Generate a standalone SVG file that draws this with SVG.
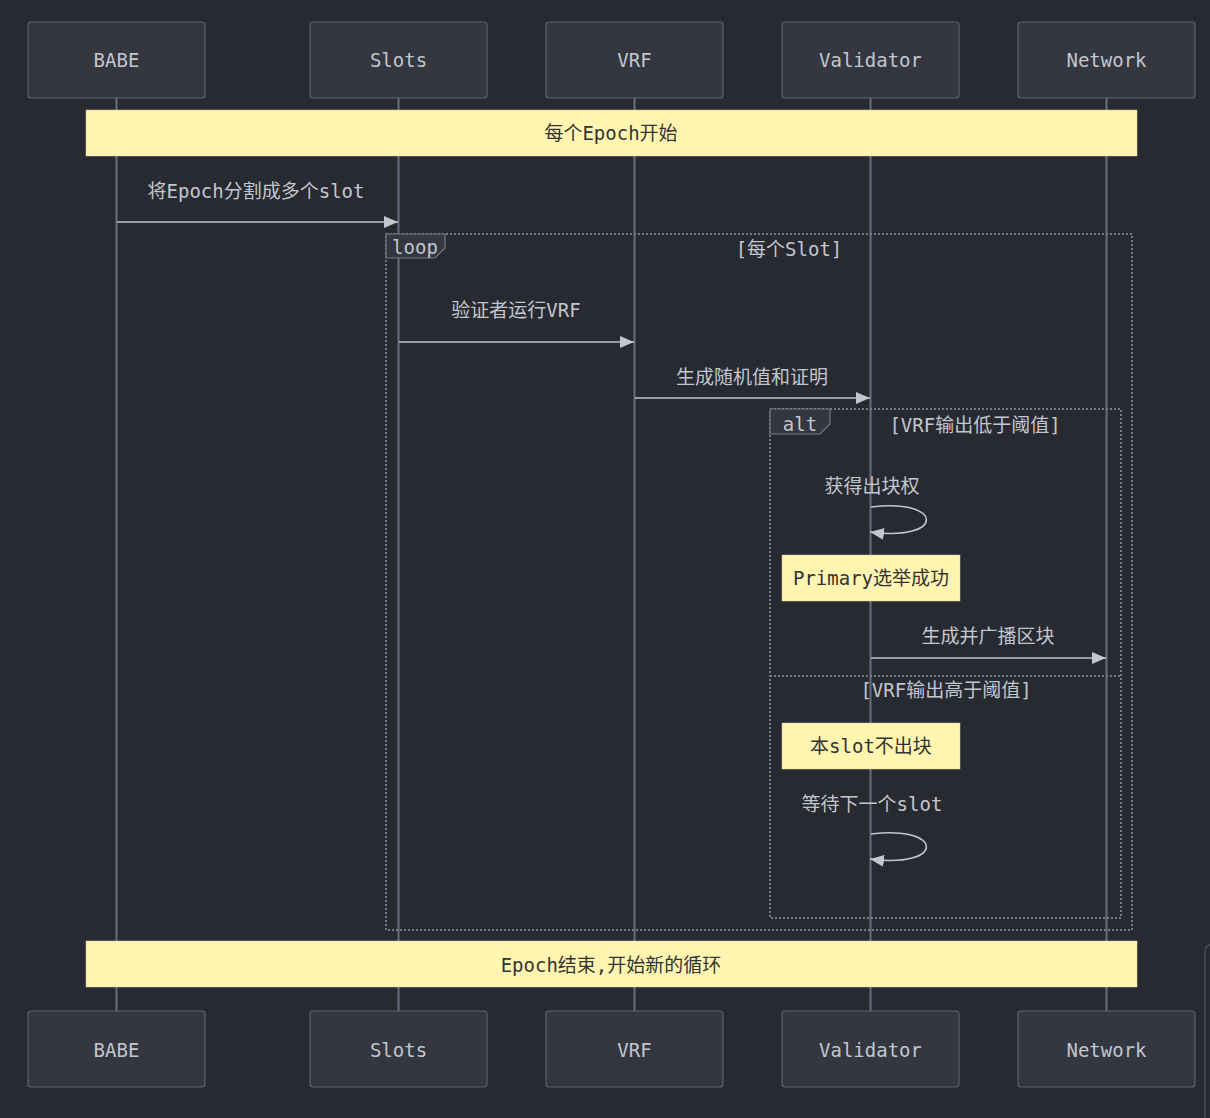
<svg xmlns="http://www.w3.org/2000/svg" width="1210" height="1118" viewBox="0 0 1210 1118">
  <style>
    .bg { fill: #282a32; }
    .actor rect { fill: #343640; stroke: #5d6170; stroke-width: 1.2; }
    .actor text { fill: #c2c6ce; font-family: "DejaVu Sans Mono", "Noto Sans CJK SC", monospace; font-size: 19px; text-anchor: middle; dominant-baseline: central; }
    .life { stroke: #686d7e; stroke-width: 2; }
    .msg { stroke: #c3c6cd; stroke-width: 1.5; fill: none; }
    .msgtext { fill: #c2c6ce; font-family: "DejaVu Sans Mono", "Noto Sans CJK SC", monospace; font-size: 19px; text-anchor: middle; dominant-baseline: central; }
    .note rect { fill: #fff5b1; stroke: #d8d0a0; stroke-width: 0.5; }
    .note text { fill: #333333; font-family: "DejaVu Sans Mono", "Noto Sans CJK SC", monospace; font-size: 19px; text-anchor: middle; dominant-baseline: central; }
    .frame { fill: none; stroke: #767a88; stroke-width: 2; stroke-dasharray: 2 2; }
    .tag { fill: #343640; stroke: #767a88; stroke-width: 1.2; }
    .tagtext { fill: #c2c6ce; font-family: "DejaVu Sans Mono", "Noto Sans CJK SC", monospace; font-size: 19px; text-anchor: middle; dominant-baseline: central; }
  </style>
  <defs>
    <marker id="arrow" viewBox="0 0 14 12" refX="14" refY="6" markerWidth="14" markerHeight="12" markerUnits="userSpaceOnUse" orient="auto">
      <path d="M0,0 L14,6 L0,12 z" fill="#c3c6cd"/>
    </marker>
  </defs>

  <rect class="bg" x="0" y="0" width="1210" height="1118"/>
  <!-- edge of a neighbouring panel -->
  <path d="M1210,945 Q1205,945 1205,953 L1205,1118" fill="none" stroke="#4a4e5a" stroke-width="1.5"/>

  <!-- lifelines -->
  <g id="lifelines">
    <line class="life" x1="116.5" y1="98" x2="116.5" y2="1011"/>
    <line class="life" x1="398.5" y1="98" x2="398.5" y2="1011"/>
    <line class="life" x1="634.5" y1="98" x2="634.5" y2="1011"/>
    <line class="life" x1="870.5" y1="98" x2="870.5" y2="1011"/>
    <line class="life" x1="1106.5" y1="98" x2="1106.5" y2="1011"/>
  </g>

  <!-- participants, top -->
  <g id="actor-babe-top" class="actor"><rect x="28" y="22" width="177" height="76" rx="3"/><text x="116.5" y="60">BABE</text></g>
  <g id="actor-slots-top" class="actor"><rect x="310" y="22" width="177" height="76" rx="3"/><text x="398.5" y="60">Slots</text></g>
  <g id="actor-vrf-top" class="actor"><rect x="546" y="22" width="177" height="76" rx="3"/><text x="634.5" y="60">VRF</text></g>
  <g id="actor-validator-top" class="actor"><rect x="782" y="22" width="177" height="76" rx="3"/><text x="870.5" y="60">Validator</text></g>
  <g id="actor-network-top" class="actor"><rect x="1018" y="22" width="177" height="76" rx="3"/><text x="1106.5" y="60">Network</text></g>

  <!-- participants, bottom -->
  <g id="actor-babe-bottom" class="actor"><rect x="28" y="1011" width="177" height="76" rx="3"/><text x="116.5" y="1050">BABE</text></g>
  <g id="actor-slots-bottom" class="actor"><rect x="310" y="1011" width="177" height="76" rx="3"/><text x="398.5" y="1050">Slots</text></g>
  <g id="actor-vrf-bottom" class="actor"><rect x="546" y="1011" width="177" height="76" rx="3"/><text x="634.5" y="1050">VRF</text></g>
  <g id="actor-validator-bottom" class="actor"><rect x="782" y="1011" width="177" height="76" rx="3"/><text x="870.5" y="1050">Validator</text></g>
  <g id="actor-network-bottom" class="actor"><rect x="1018" y="1011" width="177" height="76" rx="3"/><text x="1106.5" y="1050">Network</text></g>

  <!-- loop frame -->
  <g id="loop-frame">
    <rect class="frame" x="386" y="234" width="746" height="696"/>
    <path class="tag" d="M386,234 L445,234 L445,248 L435,258 L386,258 z"/>
    <text class="tagtext" x="415" y="247">loop</text>
    <text class="tagtext" x="789" y="249">[每个Slot]</text>
  </g>

  <!-- alt frame -->
  <g id="alt-frame">
    <rect class="frame" x="770" y="409" width="351" height="509"/>
    <path class="tag" d="M770,409 L830,409 L830,424 L820,434 L770,434 z"/>
    <text class="tagtext" x="800" y="424">alt</text>
    <text class="tagtext" x="975" y="425">[VRF输出低于阈值]</text>
    <line class="frame" x1="770" y1="676" x2="1121" y2="676"/>
    <text class="tagtext" x="946" y="690">[VRF输出高于阈值]</text>
  </g>

  <!-- notes -->
  <g id="note-epoch-start" class="note"><rect x="86" y="110" width="1051" height="46"/><text x="611" y="133">每个Epoch开始</text></g>
  <g id="note-primary" class="note"><rect x="782" y="555" width="178" height="46"/><text x="871" y="578">Primary选举成功</text></g>
  <g id="note-skip" class="note"><rect x="782" y="723" width="178" height="46"/><text x="871" y="746">本slot不出块</text></g>
  <g id="note-epoch-end" class="note"><rect x="86" y="941" width="1051" height="46"/><text x="611" y="965">Epoch结束,开始新的循环</text></g>

  <!-- messages -->
  <g id="connectors">
    <text class="msgtext" x="256" y="191">将Epoch分割成多个slot</text>
    <line class="msg" x1="117" y1="222" x2="398" y2="222" marker-end="url(#arrow)"/>

    <text class="msgtext" x="516" y="310">验证者运行VRF</text>
    <line class="msg" x1="399" y1="342" x2="634" y2="342" marker-end="url(#arrow)"/>

    <text class="msgtext" x="752" y="377">生成随机值和证明</text>
    <line class="msg" x1="635" y1="398" x2="870" y2="398" marker-end="url(#arrow)"/>

    <text class="msgtext" x="872" y="486">获得出块权</text>
    <path class="msg" d="M871,507 C945,498 945,542 870,532" marker-end="url(#arrow)"/>

    <text class="msgtext" x="988" y="636">生成并广播区块</text>
    <line class="msg" x1="871" y1="658" x2="1106" y2="658" marker-end="url(#arrow)"/>

    <text class="msgtext" x="872" y="804">等待下一个slot</text>
    <path class="msg" d="M871,834 C945,825 945,869 870,859" marker-end="url(#arrow)"/>
  </g>
</svg>
